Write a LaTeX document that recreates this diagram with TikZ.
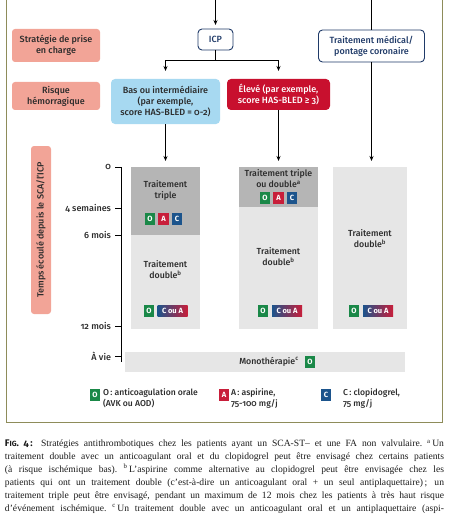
\documentclass[tikz,border=0pt]{standalone}
\usepackage{fontspec}
\setmainfont{Fira Sans}[Numbers=OldStyle, UprightFont=* Medium, BoldFont=* Bold]
\newfontfamily\capfont{Liberation Serif}
\usetikzlibrary{arrows.meta,calc}
\definecolor{salmon}{HTML}{F2A497}
\definecolor{framec}{HTML}{8E8C5A}
\definecolor{navy}{HTML}{1F3A68}
\definecolor{lblue}{HTML}{A7D9F1}
\definecolor{crimson}{HTML}{C8102E}
\definecolor{dgrey}{HTML}{B5B5B5}
\definecolor{lgrey}{HTML}{E6E6E6}
\definecolor{bgreen}{HTML}{1A8848}
\definecolor{bred}{HTML}{C81E3A}
\definecolor{bblue}{HTML}{1C548C}
\definecolor{txt}{HTML}{2B2B2B}
\definecolor{captxt}{HTML}{1A1A1A}
\tikzset{
  every node/.style={inner sep=0pt, outer sep=0pt},
  lab/.style={fill=salmon, rounded corners=3pt, align=center, text=txt, font=\fontsize{9}{11}\selectfont},
  wbox/.style={draw=navy, line width=0.9pt, fill=white, rounded corners=4pt, align=center, text=navy, font=\fontsize{9}{11}\selectfont},
  riskbox/.style={rounded corners=4pt, align=center, font=\fontsize{9}{11}\selectfont},
  colblk/.style={fill=#1, anchor=north west},
  coltxt/.style={align=center, text=txt, font=\fontsize{8.8}{11}\selectfont},
  badge/.style={rectangle, fill=#1, minimum width=10.5pt, minimum height=11.5pt, text=white, font=\fontsize{7.5}{8}\bfseries},
  cabadge/.style={rectangle, left color=bblue, right color=bred, minimum width=30pt, minimum height=11.5pt, text=white, font=\fontsize{7.5}{8}\bfseries},
  arr/.style={-{Stealth[length=5pt,width=4pt]}, line width=0.8pt, black},
  plain/.style={line width=0.8pt, black},
  ticklab/.style={anchor=east, text=txt, font=\fontsize{9}{11}\selectfont},
  leg/.style={anchor=north west, align=left, text=txt, font=\fontsize{8.6}{10.5}\selectfont}
}
\begin{document}
\begin{tikzpicture}[x=1pt,y=-1pt]
\useasboundingbox (0,0) rectangle (449,516);
% frame
\draw[framec, line width=1pt] (6,-5) -- (6,422) -- (442,422) -- (442,-5);
% left labels
\node[lab, minimum width=88pt, minimum height=33pt] (strat) at (56,45.5) {Stratégie de prise\\en charge};
\node[lab, minimum width=88pt, minimum height=28pt] (risk) at (56,96) {Risque\\hémorragique};
\node[lab, rotate=90, minimum width=168pt, minimum height=20pt] (tlab) at (41,230) {Temps écoulé depuis le SCA/l’ICP};
% strategy boxes
\node[wbox, minimum width=35pt, minimum height=21pt] (icp) at (215.5,39.5) {ICP};
\node[wbox, minimum width=106pt, minimum height=32pt] (med) at (371.5,46) {Traitement médical/\\pontage coronaire};
\node[riskbox, fill=lblue, text=txt, minimum width=109pt, minimum height=45pt] (bas) at (165.5,101.5) {Bas ou intermédiaire\\(par exemple,\\score HAS-BLED = 0-2)};
\node[riskbox, fill=crimson, text=white, minimum width=103pt, minimum height=31pt] (eleve) at (278.5,94.5) {Élevé (par exemple,\\score HAS-BLED ≥ 3)};
% incoming lines from top
\coordinate (top1) at (215.5,0);
\coordinate (top2) at (371.5,0);
\draw[arr, shorten >=4pt] (top1) -- (icp.north);
\draw[plain] (top2) -- (med.north);
% ICP branches
\draw[plain] (icp.south) -- ++(0,10.5) coordinate (br);
\draw[plain] (br -| bas.north) -- (br -| eleve.north);
\draw[arr, shorten >=8pt] (br -| bas.north) -- (bas.north);
\draw[arr, shorten >=8pt] (br -| eleve.north) -- (eleve.north);
% columns
\node[colblk=dgrey, minimum width=69pt, minimum height=68pt] (c1a) at (131,167) {};
\node[colblk=lgrey, minimum width=69pt, minimum height=94pt] (c1b) at (131,235) {};
\node[colblk=dgrey, minimum width=79pt, minimum height=40pt] (c2a) at (239,167) {};
\node[colblk=lgrey, minimum width=79pt, minimum height=122pt] (c2b) at (239,207) {};
\node[colblk=lgrey, minimum width=74pt, minimum height=162pt] (c3) at (333,167) {};
\node[colblk=lgrey, minimum width=280pt, minimum height=20pt] (mono) at (125,352) {};
% arrows to columns
\draw[arr, shorten >=6pt] (bas.south) -- (bas.south |- c1a.north);
\draw[arr, shorten >=6pt] (eleve.south) -- (eleve.south |- c2a.north);
\draw[arr, shorten >=6pt] (med.south) -- (med.south |- c3.north);
% axis
\draw[plain, line width=0.9pt] (121,167) -- (121,362);
\foreach \yy/\tt in {167/0, 208/4 semaines, 235/6 mois, 326/12 mois, 356/À vie}{
  \draw[plain, line width=0.9pt] (115,\yy) -- (121,\yy);
  \node[ticklab] at (111,\yy) {\tt};
}
% column texts
\node[coltxt] (t1a) at (165.5,190) {Traitement\\triple};
\node[badge=bgreen] (o1) at (150,219) {O};
\node[badge=bred] (a1) at (163.5,219) {A};
\node[badge=bblue] (k1) at (177,219) {C};
\node[coltxt] (t1b) at (165.5,270) {Traitement\\double\textsuperscript{b}};
\node[badge=bgreen] (o1b) at (149,311) {O};
\node[cabadge] (ca1) at (172.5,311) {C ou A};

\node[coltxt] (t2a) at (278.5,179) {Traitement triple\\ou double\textsuperscript{a}};
\node[badge=bgreen] (o2) at (265,198) {O};
\node[badge=bred] (a2) at (278.5,198) {A};
\node[badge=bblue] (k2) at (292,198) {C};
\node[coltxt] (t2b) at (278.5,257) {Traitement\\double\textsuperscript{b}};
\node[badge=bgreen] (o2b) at (263,311) {O};
\node[cabadge] (ca2) at (287,311) {C ou A};

\node[coltxt] (t3) at (370,239) {Traitement\\double\textsuperscript{b}};
\node[badge=bgreen] (o3) at (354,311) {O};
\node[cabadge] (ca3) at (378,311) {C ou A};

\node[coltxt] (mt) at (269,362) {Monothérapie\textsuperscript{c}};
\node[badge=bgreen] (om) at (310,362) {O};
% legend
\node[badge=bgreen] (lo) at (95,395) {O};
\node[leg] (lot) at (103,389) {O\,: anticoagulation orale\\(AVK ou AOD)};
\node[badge=bred] (la) at (224,395) {A};
\node[leg] (lat) at (231,389) {A\,: aspirine,\\75-100 mg/j};
\node[badge=bblue] (lc) at (326,395) {C};
\node[leg] (lct) at (343,389) {C\,: clopidogrel,\\75 mg/j};
% caption
\node[anchor=north west, text width=439pt, align=justify, text=captxt, font=\capfont\fontsize{9.6}{12.85}\selectfont] (cap) at (5,440) {\parfillskip=0pt
{\rmfamily\bfseries F{\fontsize{7.5}{8}\selectfont IG}. 4\,:} Stratégies antithrombotiques chez les patients ayant un SCA-ST– et une FA non valvulaire.~\textsuperscript{a}\,Un\linebreak
traitement double avec un anticoagulant oral et du clopidogrel peut être envisagé chez certains patients\linebreak
(à risque ischémique bas).~\textsuperscript{b}\,L’aspirine comme alternative au clopidogrel peut être envisagée chez les\linebreak
patients qui ont un traitement double (c’est-à-dire un anticoagulant oral + un seul antiplaquettaire)\,; un\linebreak
traitement triple peut être envisagé, pendant un maximum de 12 mois chez les patients à très haut risque\linebreak
d’événement ischémique.~\textsuperscript{c}\,Un traitement double avec un anticoagulant oral et un antiplaquettaire (aspi-\linebreak
rine ou clopidogrel) au-delà de 1 an peut être envisagé chez les patients à très haut risque d’événement};
\end{tikzpicture}
\end{document}
